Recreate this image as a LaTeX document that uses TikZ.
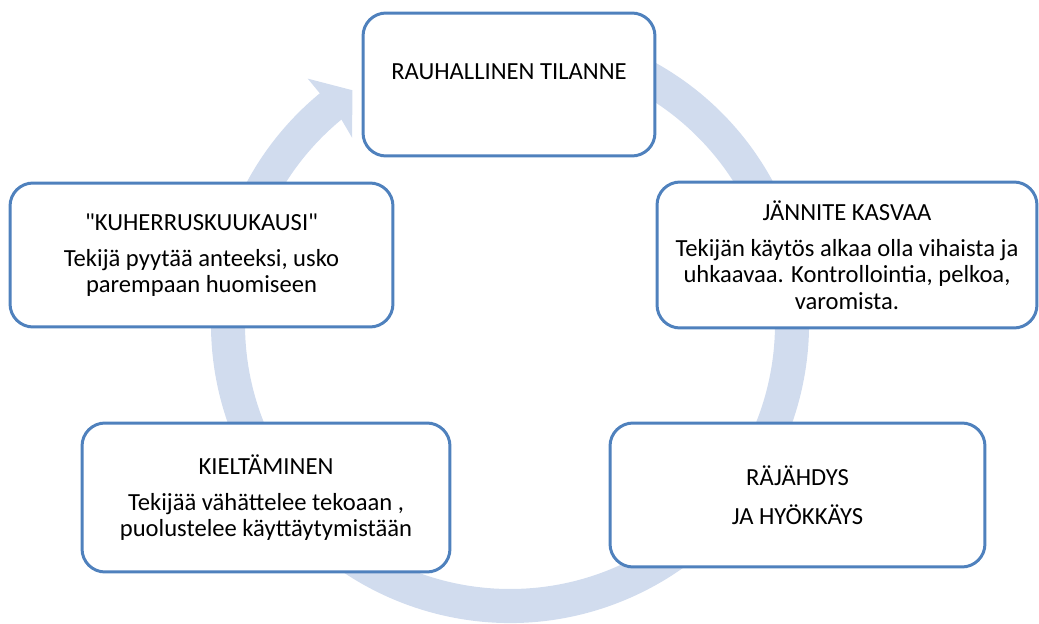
\documentclass[tikz,border=0pt]{standalone}
\usepackage{fontspec}
\setmainfont{Carlito}[Ligatures=TeXOff]
\definecolor{kehys}{RGB}{79,129,189}
\definecolor{rengas}{RGB}{209,220,238}

\begin{document}
\begin{tikzpicture}[x=0.02cm,y=0.02cm,
  vaihe/.style={draw=kehys,line width=1.7pt,fill=white,rounded corners=0.46cm,
    align=center,inner sep=0pt,font=\fontsize{14}{15}\selectfont}]
       \useasboundingbox (0,0) rectangle (1039,623);

       %kehä
       \begin{scope}[shift={(510,299)}]
       	\fill[rengas] (115:299) arc [start angle=115, end angle=-230.5, radius=299]
       	-- (129.5:318) -- (124:282) -- (130.3:244) -- (129.5:265)
       	arc [start angle=-230.5, end angle=115, radius=265] -- cycle;
       \end{scope}

       %vaiheet
       \node[vaihe,minimum width=5.84cm,minimum height=2.86cm] (rauha) at (509,538.5)
       	{RAUHALLINEN TILANNE\\\mbox{}};
       \node[vaihe,minimum width=7.6cm,minimum height=2.92cm] (jannite) at (847,368)
       	{JÄNNITE KASVAA\\[5.5pt]
       	Tekijän käytös alkaa olla vihaista ja\\
       	uhkaavaa. Kontrollointia, pelkoa,\\
       	varomista.};
       \node[vaihe,minimum width=7.5cm,minimum height=2.88cm] (rajahdys) at (797.5,128)
       	{RÄJÄHDYS\\[7pt] JA HYÖKKÄYS};
       \node[vaihe,minimum width=7.36cm,minimum height=2.98cm] (kielto) at (266,125.5)
       	{KIELTÄMINEN\\[5.5pt]
       	Tekijää vähättelee tekoaan ,\\
       	puolustelee käyttäytymistään};
       \node[vaihe,minimum width=7.66cm,minimum height=2.88cm] (kuherrus) at (201.5,368)
       	{"KUHERRUSKUUKAUSI"\\[5.5pt]
       	Tekijä pyytää anteeksi, usko\\
       	parempaan huomiseen};

\end{tikzpicture}
\end{document}
